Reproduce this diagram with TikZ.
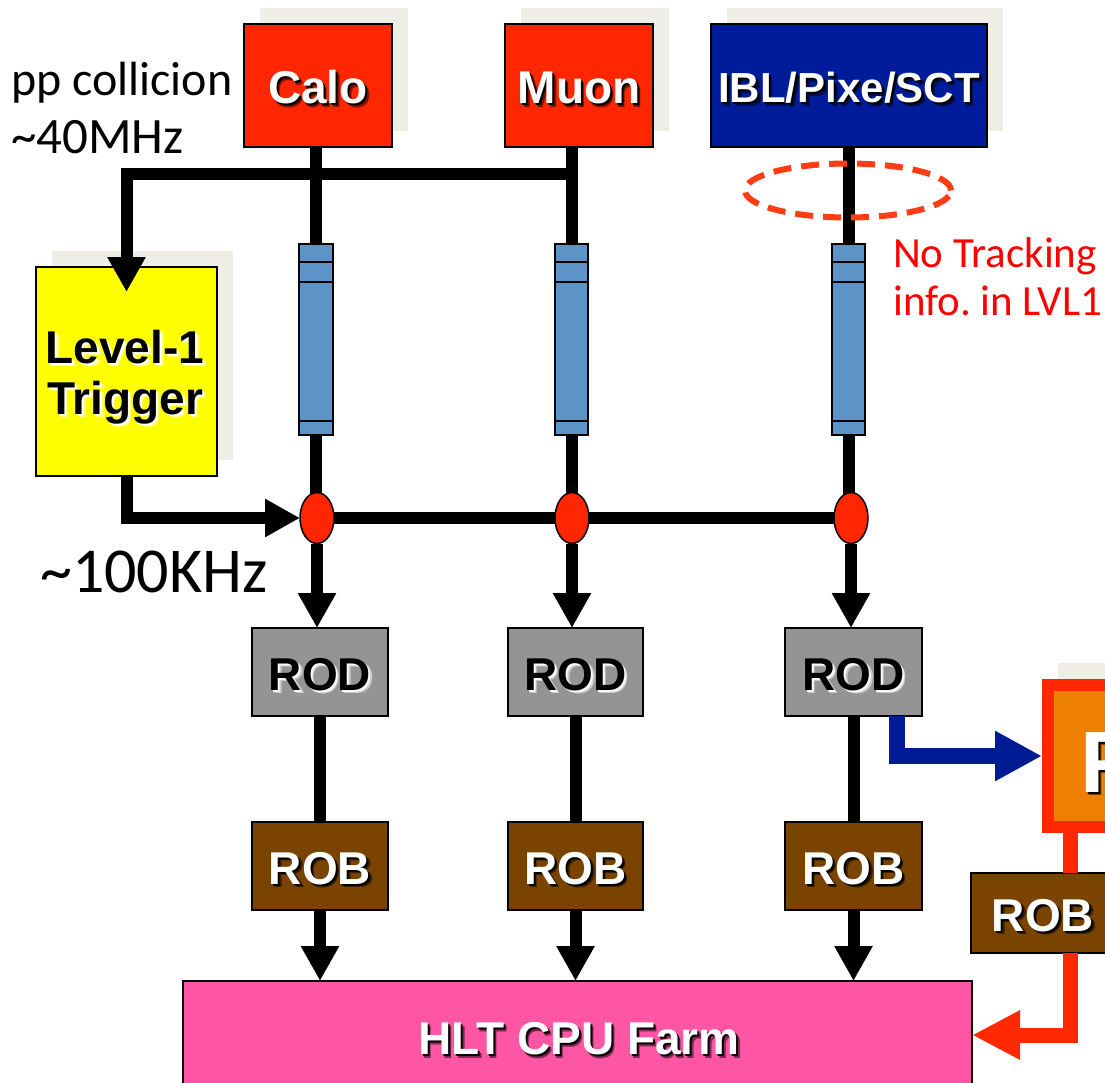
\documentclass[tikz,border=0pt]{standalone}
\usepackage{fontspec}
\setmainfont{Liberation Sans}
\newfontfamily\calfont{Carlito}
\usetikzlibrary{arrows.meta,shapes.geometric,fit}
\frenchspacing
\definecolor{caloRed}{RGB}{255,38,0}
\definecolor{iblBlue}{RGB}{0,28,154}
\definecolor{lOneYellow}{RGB}{255,255,0}
\definecolor{rodGray}{RGB}{148,148,148}
\definecolor{robBrown}{RGB}{122,68,0}
\definecolor{hltPink}{RGB}{255,85,165}
\definecolor{ftkOrange}{RGB}{238,128,0}
\definecolor{ftkRed}{RGB}{255,40,0}
\definecolor{shadowBg}{RGB}{238,238,230}
\definecolor{barBlue}{RGB}{92,148,200}
\definecolor{arrBlue}{RGB}{0,28,148}
\definecolor{noteRed}{RGB}{255,0,0}
\definecolor{dashRed}{RGB}{255,60,20}
\tikzset{
  blk/.style={draw=black, line width=2pt, inner sep=0pt, outer sep=0pt},
  lbl/.style={inner sep=0pt, outer sep=0pt, anchor=base},
  thk/.style={line width=12pt, black},
  arr/.style={-{Triangle[length=35pt,width=36pt]}},
  pipe/.style={draw=black, line width=1.5pt, fill=barBlue, inner sep=0pt, outer sep=0pt},
  oval/.style={ellipse, draw=black, line width=1.5pt, fill=caloRed, minimum width=34pt, minimum height=51pt, inner sep=0pt, outer sep=0pt},
  ann/.style={inner sep=0pt, anchor=base west, font=\calfont\fontsize{48}{52}\selectfont},
  note/.style={inner sep=0pt, anchor=base west, text=noteRed, font=\calfont\fontsize{43}{48}\selectfont},
}
\newcommand\SBox[6]{%
  \fill[shadowBg, shift={(16,-16)}] (#2,#3) rectangle (#4,#5);
  \node[blk, fill=#6, fit={(#2,#3) (#4,#5)}] (#1) {};}
\newcommand\SLabel[6]{%
  \node[lbl, font=\fontsize{#6}{#6}\selectfont\bfseries, text=#5, opacity=.5] (#1-sb) at ([xshift=3.5pt,yshift=-3.5pt-0.358*#6pt-2pt]#2) {#3};
  \node[lbl, font=\fontsize{#6}{#6}\selectfont\bfseries, text=#5, opacity=.9] (#1-sa) at ([xshift=2pt,yshift=-2pt-0.358*#6pt-2pt]#2) {#3};
  \node[lbl, font=\fontsize{#6}{#6}\selectfont\bfseries, text=#4] (#1-tx) at ([yshift=-0.358*#6pt-2pt]#2) {#3};}
\begin{document}
\begin{tikzpicture}[x=1pt,y=-1pt]
\useasboundingbox (0,0) rectangle (1105,1082);
\clip (0,0) rectangle (1105,1082);

% detector boxes
\SBox{calo}{244}{24}{392}{147}{caloRed}
\SBox{muon}{505}{24}{653}{147}{caloRed}
\SBox{ibl}{711}{24}{987}{147}{iblBlue}
\SBox{lone}{36}{267}{217}{476}{lOneYellow}

% FTK (cropped) box with shadow
\fill[shadowBg] (1058,663) rectangle (1160,817);
\node[draw=ftkRed, line width=12pt, fill=ftkOrange, inner sep=0pt, outer sep=6pt, fit={(1048,685) (1150,827)}] (ftk) {};

% ROD / ROB / HLT boxes
\node[blk, fill=rodGray, fit={(252,628) (388,716)}] (rod1) {};
\node[blk, fill=rodGray, fit={(508,628) (643,716)}] (rod2) {};
\node[blk, fill=rodGray, fit={(785,628) (922,716)}] (rod3) {};
\node[blk, fill=robBrown, fit={(252,822) (388,910)}] (rob1) {};
\node[blk, fill=robBrown, fit={(508,822) (643,910)}] (rob2) {};
\node[blk, fill=robBrown, fit={(785,822) (922,910)}] (rob3) {};
\node[blk, fill=robBrown, fit={(971,873) (1150,953)}] (rob4) {};
\node[blk, fill=hltPink, fit={(183,981) (972,1110)}] (hlt) {};

% pipelines
\node[pipe, fit={(299,244) (333,435)}] (bar1) {};
\node[pipe, fit={(555,244) (588,435)}] (bar2) {};
\node[pipe, fit={(832,244) (865,435)}] (bar3) {};
\foreach \b in {bar1,bar2,bar3}{
  \draw[line width=1.5pt] ([yshift=-18pt]\b.north west) -- ([yshift=-18pt]\b.north east);
  \draw[line width=1.5pt] ([yshift=-38pt]\b.north west) -- ([yshift=-38pt]\b.north east);
  \draw[line width=1.5pt] ([yshift=14pt]\b.south west) -- ([yshift=14pt]\b.south east);
}

% junction ovals (positions)
\coordinate (o1) at (317,518);
\coordinate (o2) at (572,518);
\coordinate (o3) at (851,518);

% vertical lines detector -> pipeline -> oval
\draw[thk] (bar1.north |- calo.south) -- (bar1.north);
\draw[thk] (bar2.north |- muon.south) -- (bar2.north);
\draw[thk] (bar3.north |- ibl.south) -- (bar3.north);
\draw[thk] (bar1.south) -- (bar1.south |- o1);
\draw[thk] (bar2.south) -- (bar2.south |- o2);
\draw[thk] (bar3.south) -- (bar3.south |- o3);

% trigger path
\coordinate (jt) at (571,174);
\draw[thk, arr, line join=miter] (jt) -- (lone.north |- jt) -- ([yshift=-25pt]lone.north);
\draw[thk] (o1) -- (o3);

\node[oval] (ov1) at (o1) {};
\node[oval] (ov2) at (o2) {};
\node[oval] (ov3) at (o3) {};
\draw[thk, arr, line join=miter] (lone.south) -- (lone.south |- ov1.west) -- (ov1.west);

% down to ROD, ROB, HLT
\draw[thk, arr] (ov1.south) -- (ov1.south |- rod1.north);
\draw[thk, arr] (ov2.south) -- (ov2.south |- rod2.north);
\draw[thk, arr] (ov3.south) -- (ov3.south |- rod3.north);
\draw[thk] (rod1.south) -- (rob1.north);
\draw[thk] (rod2.south) -- (rob2.north);
\draw[thk] (rod3.south) -- (rob3.north);
\draw[thk, arr] (rob1.south) -- (rob1.south |- hlt.north);
\draw[thk, arr] (rob2.south) -- (rob2.south |- hlt.north);
\draw[thk, arr] (rob3.south) -- (rob3.south |- hlt.north);

% blue arrow ROD -> FTK
\draw[arrBlue, line width=16pt, line join=miter, -{Triangle[length=47pt,width=47pt]}] ([xshift=-25pt]rod3.south east) |- (ftk.west);

% red path FTK -> ROB -> HLT
\coordinate (rx) at (1070,1035);
\draw[ftkRed, line width=15pt] (ftk.south -| rx) -- (rob4.north -| rx);
\draw[ftkRed, line width=15pt, line join=miter, -{Triangle[length=48pt,width=46pt]}] (rob4.south -| rx) -- (rx) -- (hlt.east |- rx);

% dashed ellipse
\node[ellipse, draw=dashRed, line width=6pt, dash pattern=on 18pt off 10pt, minimum width=206pt, minimum height=54pt, inner sep=0pt] (noinfo) at (848,190.5) {};

% box labels
\SLabel{calo}{calo.center}{Calo}{white}{black}{46}
\SLabel{muon}{muon.center}{Muon}{white}{black}{46}
\SLabel{ibl}{ibl.center}{IBL/Pixe/SCT}{white}{black}{42}
\SLabel{rod1}{rod1.center}{ROD}{black}{white}{46}
\SLabel{rod2}{rod2.center}{ROD}{black}{white}{46}
\SLabel{rod3}{rod3.center}{ROD}{black}{white}{46}
\SLabel{rob1}{rob1.center}{ROB}{white}{black}{46}
\SLabel{rob2}{rob2.center}{ROB}{white}{black}{46}
\SLabel{rob3}{rob3.center}{ROB}{white}{black}{46}
\coordinate (rob4c) at (1043,913);
\SLabel{rob4}{rob4c}{ROB}{white}{black}{46}
\coordinate (hltc) at (579,1036.5);
\SLabel{hlt}{hltc}{HLT CPU Farm}{white}{black}{46}
\coordinate (lvlc) at (125,345);
\SLabel{lvl}{lvlc}{Level-1}{black}{white}{46}
\coordinate (trgc) at (125,396);
\SLabel{trg}{trgc}{Trigger}{black}{white}{46}
\coordinate (ftkc) at (1107,759);
\SLabel{ftkl}{ftkc}{F}{white}{black}{87}

% annotations
\node[ann] (pp) at (11,95) {pp collicion};
\node[ann, font=\calfont\fontsize{51}{55}\selectfont] (f40) at (11,153) {\textasciitilde40MHz};
\node[ann, font=\calfont\fontsize{64}{68}\selectfont] (f100) at (40,592) {\textasciitilde100KHz};
\node[note] (nt1) at (893,267) {No Tracking};
\node[note] (nt2) at (893,315) {info. in LVL1};
\end{tikzpicture}
\end{document}
